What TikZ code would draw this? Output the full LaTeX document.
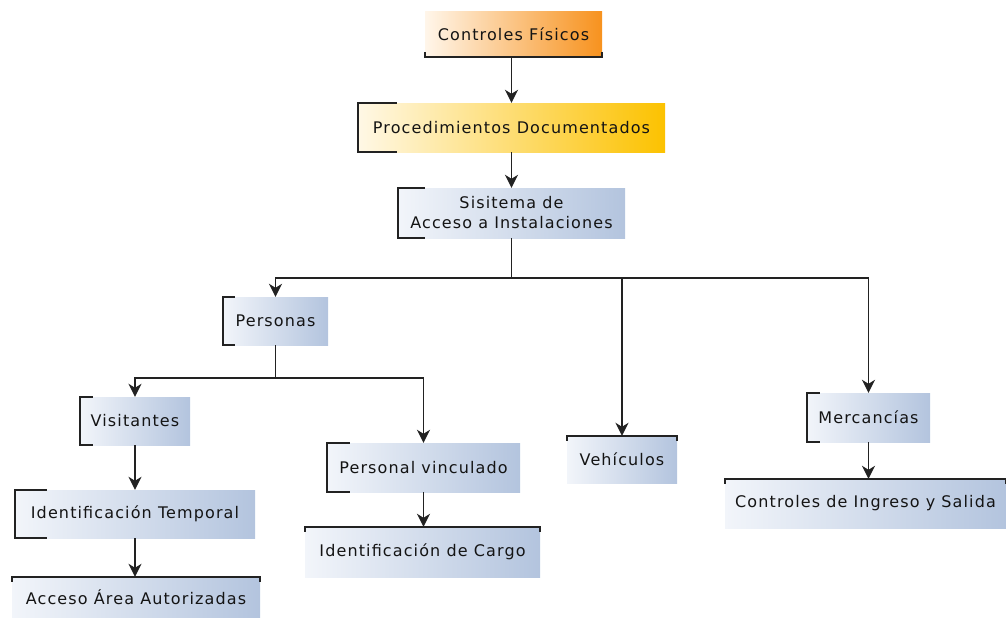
\documentclass[tikz,border=0pt]{standalone}
\usepackage{fontspec}
\setmainfont{DejaVu Sans}[LetterSpace=7]
\usetikzlibrary{arrows.meta}
\definecolor{bluebox}{HTML}{B3C4DE}
\definecolor{bluel}{HTML}{F2F5FA}
\definecolor{orangebox}{HTML}{F7921E}
\definecolor{orangel}{HTML}{FFF6EA}
\definecolor{yellowbox}{HTML}{FCC200}
\definecolor{yellowl}{HTML}{FFF8E6}
\definecolor{linec}{HTML}{222222}
\definecolor{txt}{HTML}{141414}
\tikzset{
  box/.style={rectangle, inner sep=0pt, left color=bluel, right color=bluebox,
    text=txt, font=\fontsize{16}{20}\selectfont, align=center},
  brk/.style={draw=linec, line width=1.6pt},
  plain/.style={draw=linec, line width=1.6pt},
  conn/.style={draw=linec, line width=1.6pt, -{Stealth[length=13pt,width=13pt,inset=4pt]}},
}
\begin{document}
\begin{tikzpicture}[x=1pt,y=-1pt]
\useasboundingbox (0,0) rectangle (1006,618);
% boxes
\node[box, left color=orangel, right color=orangebox, minimum width=177pt, minimum height=45pt] (fis) at (513.5,34.5) {Controles Físicos};
\node[box, left color=yellowl, right color=yellowbox, minimum width=307pt, minimum height=49pt] (proc) at (511.5,127.5) {Procedimientos Documentados};
\node[box, minimum width=227pt, minimum height=50pt] (sis) at (511.5,213) {Sisitema de\\Acceso a Instalaciones};
\node[box, minimum width=105pt, minimum height=48pt] (per) at (275.5,321) {Personas};
\node[box, minimum width=110pt, minimum height=48pt] (vis) at (135,421) {Visitantes};
\node[box, minimum width=240pt, minimum height=48pt] (it) at (135,514) {Identificación Temporal};
\node[box, minimum width=248pt, minimum height=41pt] (aa) at (136,597.5) {Acceso Área Autorizadas};
\node[box, minimum width=193pt, minimum height=49pt] (pv) at (423.5,467.5) {Personal vinculado};
\node[box, minimum width=235pt, minimum height=50pt] (ic) at (422.5,552) {Identificación de Cargo};
\node[box, minimum width=110pt, minimum height=47pt] (veh) at (622,459.5) {Vehículos};
\node[box, minimum width=123pt, minimum height=49pt] (mer) at (868.5,417.5) {Mercancías};
\node[box, minimum width=281pt, minimum height=49pt] (cis) at (865.5,503.5) {Controles de Ingreso y Salida};
% brackets
\draw[brk] ([yshift=5pt]fis.south west) -- (fis.south west) -- (fis.south east) -- ++(0,-5);
\draw[brk] ([xshift=39pt]proc.north west) -| (proc.south west) -- ++(39,0);
\draw[brk] ([xshift=27pt]sis.north west) -| (sis.south west) -- ++(27,0);
\draw[brk] ([xshift=12pt]per.north west) -| (per.south west) -- ++(12,0);
\draw[brk] ([xshift=13pt]vis.north west) -| (vis.south west) -- ++(13,0);
\draw[brk] ([xshift=32pt]it.north west) -| (it.south west) -- ++(32,0);
\draw[brk] ([xshift=23pt]pv.north west) -| (pv.south west) -- ++(23,0);
\draw[brk] ([xshift=13pt]mer.north west) -| (mer.south west) -- ++(13,0);
\draw[brk] ([yshift=-5pt]aa.north west) -- (aa.north west) -- (aa.north east) -- ++(0,5);
\draw[brk] ([yshift=-5pt]ic.north west) -- (ic.north west) -- (ic.north east) -- ++(0,5);
\draw[brk] ([yshift=-5pt]veh.north west) -- (veh.north west) -- (veh.north east) -- ++(0,5);
\draw[brk] ([yshift=-5pt]cis.north west) -- (cis.north west) -- (cis.north east) -- ++(0,5);
% connectors
\draw[conn] (fis.south -| proc.north) -- (proc.north);
\draw[conn] (proc.south) -- (sis.north);
\draw[plain] (sis.south) -- ++(0,40) coordinate (j1);
\draw[conn] (j1) -| (per.north);
\draw[conn] (j1) -| (veh.north);
\draw[conn] (j1) -| (mer.north);
\draw[plain] (per.south) -- ++(0,33) coordinate (j2);
\draw[conn] (j2) -| (vis.north);
\draw[conn] (j2) -| (pv.north);
\draw[conn] (vis.south) -- (vis.south |- it.north);
\draw[conn] (it.south) -- (it.south |- aa.north);
\draw[conn] (pv.south) -- (pv.south |- ic.north);
\draw[conn] (mer.south) -- (mer.south |- cis.north);
\end{tikzpicture}
\end{document}
